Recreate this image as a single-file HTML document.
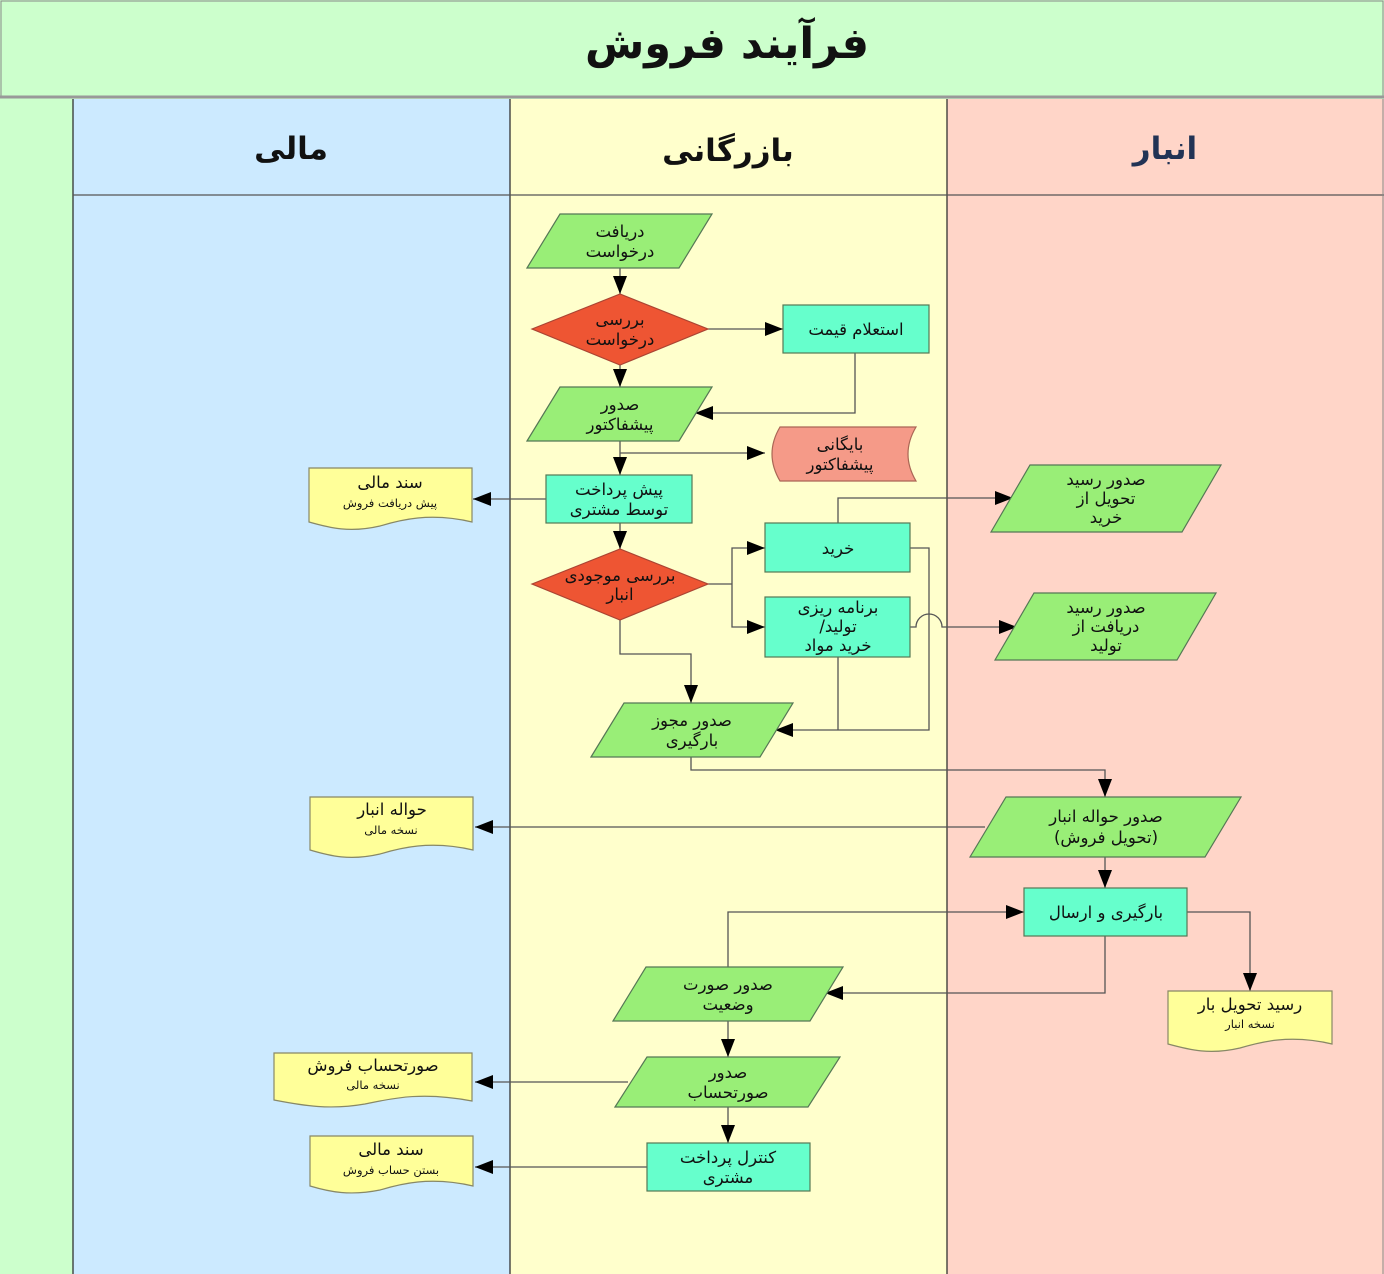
<!DOCTYPE html>
<html><head><meta charset="utf-8"><style>
html,body{margin:0;padding:0;background:#fff}
svg{display:block}
text{font-family:"DejaVu Sans","Noto Sans CJK SC",sans-serif;fill:#111;text-anchor:middle;direction:rtl}
.t{font-size:16.5px}
.s{font-size:11.5px}
.ln{stroke:#555;stroke-width:1.3;fill:none}
</style></head><body>
<svg width="1384" height="1274" viewBox="0 0 1384 1274" xmlns="http://www.w3.org/2000/svg">
<defs>
<marker id="b" markerWidth="18" markerHeight="14" refX="18" refY="7" orient="auto" markerUnits="userSpaceOnUse">
<polygon points="0,0 18,7 0,14" fill="#000"/></marker>
</defs>
<rect x="0" y="0" width="1384" height="1274" fill="#ccffcc"/>
<rect x="1" y="1" width="1382" height="95" fill="#ccffcc" stroke="#888"/>
<line x1="0" y1="97" x2="1384" y2="97" stroke="#999" stroke-width="3"/>
<rect x="73" y="99" width="437" height="1175" fill="#cceaff"/>
<rect x="510" y="99" width="437" height="1175" fill="#ffffcc"/>
<rect x="947" y="99" width="437" height="1175" fill="#ffd5c8"/>
<line x1="73" y1="99" x2="73" y2="1274" stroke="#333" stroke-width="1.3"/>
<line x1="510" y1="99" x2="510" y2="1274" stroke="#333" stroke-width="1.3"/>
<line x1="947" y1="99" x2="947" y2="1274" stroke="#333" stroke-width="1.3"/>
<line x1="73" y1="195" x2="1384" y2="195" stroke="#555" stroke-width="1.2"/>
<line x1="1383" y1="99" x2="1383" y2="1274" stroke="#888"/>
<text x="727" y="58" style="font-size:43px;font-weight:bold">فرآیند فروش</text>
<text x="291" y="159" style="font-size:31px;font-weight:bold">مالی</text>
<text x="728" y="161" style="font-size:31px;font-weight:bold">بازرگانی</text>
<text x="1165" y="159" style="font-size:31px;font-weight:bold;fill:#223355">انبار</text>

<g class="ln">
<path d="M620,268 V294" marker-end="url(#b)"/>
<path d="M708,329 H783" marker-end="url(#b)"/>
<path d="M855,353 V413 H695" marker-end="url(#b)"/>
<path d="M620,365 V387" marker-end="url(#b)"/>
<path d="M620,441 V475" marker-end="url(#b)"/>
<path d="M620,453 H765" marker-end="url(#b)"/>
<path d="M546,499 H473" marker-end="url(#b)"/>
<path d="M620,523 V549" marker-end="url(#b)"/>
<path d="M708,584 H732"/>
<path d="M732,584 V548 H765" marker-end="url(#b)"/>
<path d="M732,584 V627 H765" marker-end="url(#b)"/>
<path d="M620,620 V654 H691 V703" marker-end="url(#b)"/>
<path d="M910,548 H929 V730 H775" marker-end="url(#b)"/>
<path d="M838,657 V730"/>
<path d="M838,523 V498 H1013" marker-end="url(#b)"/>
<path d="M910,627 H916 A13,13 0 0 1 942,627 H1017" marker-end="url(#b)"/>
<path d="M691,757 V770 H1105 V797" marker-end="url(#b)"/>
<path d="M985,827 H475" marker-end="url(#b)"/>
<path d="M1105,857 V888" marker-end="url(#b)"/>
<path d="M1187,912 H1250 V991" marker-end="url(#b)"/>
<path d="M1105,936 V993 H825" marker-end="url(#b)"/>
<path d="M728,967 V912 H1024" marker-end="url(#b)"/>
<path d="M728,1021 V1057" marker-end="url(#b)"/>
<path d="M628,1082 H475" marker-end="url(#b)"/>
<path d="M728,1107 V1143" marker-end="url(#b)"/>
<path d="M647,1167 H475" marker-end="url(#b)"/>
</g>

<g stroke="#557755" stroke-width="1.2">
<polygon points="527,268 560,214 712,214 679,268" fill="#99ee77"/>
<polygon points="527,441 560,387 712,387 679,441" fill="#99ee77"/>
<polygon points="991,532 1030,465 1221,465 1182,532" fill="#99ee77"/>
<polygon points="995,660 1034,593 1216,593 1177,660" fill="#99ee77"/>
<polygon points="591,757 624,703 793,703 760,757" fill="#99ee77"/>
<polygon points="970,857 1006,797 1241,797 1205,857" fill="#99ee77"/>
<polygon points="613,1021 646,967 843,967 810,1021" fill="#99ee77"/>
<polygon points="615,1107 647,1057 840,1057 808,1107" fill="#99ee77"/>
<polygon points="532,329 620,294 708,329 620,365" fill="#ee5533" stroke="#aa4433"/>
<polygon points="532,584 620,549 708,584 620,620" fill="#ee5533" stroke="#aa4433"/>
<rect x="783" y="305" width="146" height="48" fill="#66ffcc"/>
<rect x="546" y="475" width="146" height="48" fill="#66ffcc"/>
<rect x="765" y="523" width="145" height="49" fill="#66ffcc"/>
<rect x="765" y="597" width="145" height="60" fill="#66ffcc"/>
<rect x="1024" y="888" width="163" height="48" fill="#66ffcc"/>
<rect x="647" y="1143" width="163" height="48" fill="#66ffcc"/>
<path d="M780,427 H916 Q900,454 916,481 H780 Q764,454 780,427 Z" fill="#f59a88" stroke="#aa6655"/>
<path d="M309,468 H472 V522 C430,512 400,520 380,526 C350,533 330,528 309,522 Z" fill="#ffff99" stroke="#888866"/>
<path d="M310,797 H473 V850 C430,840 400,848 380,854 C350,861 330,856 310,850 Z" fill="#ffff99" stroke="#888866"/>
<path d="M1168,991 H1332 V1044 C1290,1034 1260,1042 1240,1048 C1210,1055 1190,1050 1168,1044 Z" fill="#ffff99" stroke="#888866"/>
<path d="M274,1053 H472 V1101 C420,1091 390,1099 365,1104 C330,1110 305,1106 274,1100 Z" fill="#ffff99" stroke="#888866"/>
<path d="M310,1136 H473 V1186 C430,1176 400,1184 380,1190 C350,1196 330,1192 310,1186 Z" fill="#ffff99" stroke="#888866"/>
</g>

<g class="t">
<text x="620" y="237">دریافت</text><text x="620" y="257">درخواست</text>
<text x="620" y="325">بررسی</text><text x="620" y="345">درخواست</text>
<text x="856" y="335">استعلام قیمت</text>
<text x="620" y="410">صدور</text><text x="620" y="430">پیشفاکتور</text>
<text x="840" y="450">بایگانی</text><text x="840" y="470">پیشفاکتور</text>
<text x="619" y="495">پیش پرداخت</text><text x="619" y="515">توسط مشتری</text>
<text x="390" y="488">سند مالی</text>
<text x="620" y="581">بررسی موجودی</text><text x="620" y="600">انبار</text>
<text x="838" y="554">خرید</text>
<text x="838" y="613">برنامه ریزی</text><text x="838" y="632">تولید/</text><text x="838" y="651">خرید مواد</text>
<text x="1106" y="485">صدور رسید</text><text x="1106" y="504">تحویل از</text><text x="1106" y="523">خرید</text>
<text x="1106" y="613">صدور رسید</text><text x="1106" y="632">دریافت از</text><text x="1106" y="651">تولید</text>
<text x="692" y="726">صدور مجوز</text><text x="692" y="746">بارگیری</text>
<text x="392" y="815">حواله انبار</text>
<text x="1106" y="822">صدور حواله انبار</text><text x="1106" y="843">(تحویل فروش)</text>
<text x="1106" y="918">بارگیری و ارسال</text>
<text x="1250" y="1010">رسید تحویل بار</text>
<text x="728" y="990">صدور صورت</text><text x="728" y="1010">وضعیت</text>
<text x="728" y="1078">صدور</text><text x="728" y="1098">صورتحساب</text>
<text x="373" y="1071">صورتحساب فروش</text>
<text x="728" y="1163">کنترل پرداخت</text><text x="728" y="1183">مشتری</text>
<text x="391" y="1155">سند مالی</text>
</g>
<g class="s">
<text x="390" y="507">پیش دریافت فروش</text>
<text x="391" y="834">نسخه مالی</text>
<text x="1250" y="1028">نسخه انبار</text>
<text x="373" y="1089">نسخه مالی</text>
<text x="391" y="1174">بستن حساب فروش</text>
</g>
</svg>
</body></html>
